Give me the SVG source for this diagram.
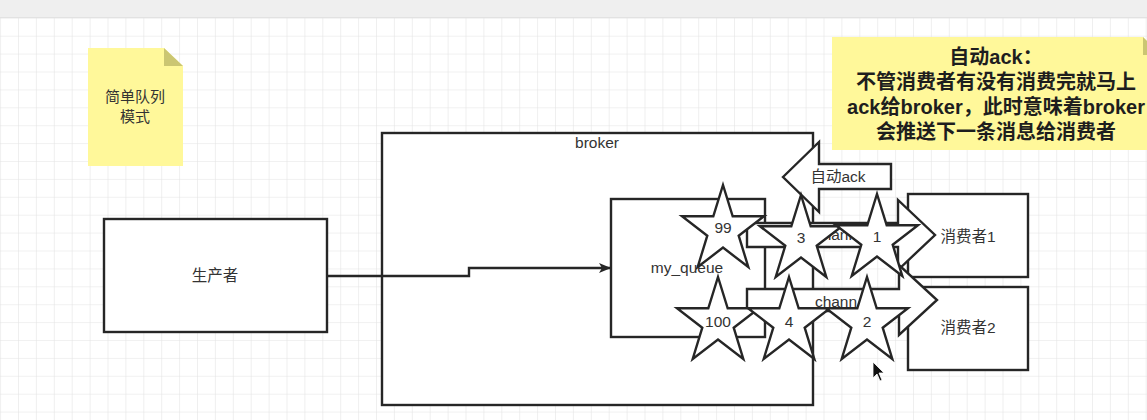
<svg xmlns="http://www.w3.org/2000/svg" xmlns:xlink="http://www.w3.org/1999/xlink" width="1147" height="420" viewBox="0 0 1147 420">
  <style>
    .box { fill: #ffffff; stroke: #262626; stroke-width: 2.4; }
    .shape { fill: #ffffff; stroke: #262626; stroke-width: 2.4; stroke-linejoin: miter; }
    .lbl { font-family: "Liberation Sans", "Noto Sans CJK SC", sans-serif; font-size: 15.5px; fill: #333333; text-anchor: middle; }
    .note { fill: #fff89a; }
    .fold { fill: #cbc672; }
    .notetxt { font-family: "Liberation Sans", "Noto Sans CJK SC", sans-serif; font-size: 15px; fill: #333333; text-anchor: middle; }
    .bignote { font-family: "Liberation Sans", "Noto Sans CJK SC", sans-serif; font-size: 20px; font-weight: bold; fill: #1e1e1e; text-anchor: middle; }
    .conn { fill: none; stroke: #262626; stroke-width: 2.4; }
  </style>
  <defs>
    <pattern id="grid" patternUnits="userSpaceOnUse" x="0.1" y="-0.1" width="17.9" height="17.9">
      <path d="M0,0 V17.9 M0,0 H17.9" fill="none" stroke="#e4e4e4" stroke-width="1.2"/>
    </pattern>
    <marker id="arrow" markerWidth="12" markerHeight="10" refX="11" refY="5" orient="auto" markerUnits="userSpaceOnUse">
      <path d="M0,0 L12,5 L0,10 L3,5 Z" fill="#262626"/>
    </marker>
    <polygon id="star" points="41,0 50.7,31.3 82,31.3 56.7,50.7 66.3,82 41,62.6 15.7,82 25.3,50.7 0,31.3 31.3,31.3"/>
  </defs>

  <!-- background -->
  <rect x="0" y="0" width="1147" height="420" fill="#ffffff"/>
  <rect x="0" y="17" width="1147" height="403" fill="url(#grid)"/>
  <rect x="0" y="0" width="1147" height="17" fill="#efefef"/>
  <line x1="0" y1="17.5" x2="1147" y2="17.5" stroke="#e2e2e2" stroke-width="1"/>

  <!-- notes -->
  <g id="note-mode">
    <path class="note" d="M88,48 H164 L183,66 V166 H88 Z"/>
    <path class="fold" d="M164,48 L183,66 H164 Z"/>
    <text class="notetxt" x="135" y="102">简单队列</text>
    <text class="notetxt" x="135" y="122">模式</text>
  </g>
  <g id="note-autoack">
    <path class="note" d="M832,37 H1143 L1161,55 V150 H832 Z"/>
    <path class="fold" d="M1143,37 L1161,55 H1143 Z"/>
    <text class="bignote" x="996" y="64">自动ack：</text>
    <text class="bignote" x="996" y="89">不管消费者有没有消费完就马上</text>
    <text class="bignote" x="996" y="114">ack给broker，此时意味着broker</text>
    <text class="bignote" x="996" y="139">会推送下一条消息给消费者</text>
  </g>

  <!-- nodes -->
  <g id="producer">
    <rect class="box" x="104" y="219" width="223" height="113"/>
    <text class="lbl" x="215" y="281">生产者</text>
  </g>
  <g id="broker">
    <rect class="box" x="382" y="133" width="431" height="272"/>
    <text class="lbl" x="597" y="148">broker</text>
  </g>
  <g id="my_queue">
    <rect class="box" x="611" y="199" width="154" height="138"/>
    <text class="lbl" x="687" y="273">my_queue</text>
  </g>
  <g id="consumer1">
    <rect class="box" x="908" y="194" width="120" height="83"/>
    <text class="lbl" x="968" y="242">消费者1</text>
  </g>
  <g id="consumer2">
    <rect class="box" x="908" y="287" width="120" height="83"/>
    <text class="lbl" x="968" y="333">消费者2</text>
  </g>

  <!-- connectors -->
  <g id="connectors">
    <path class="conn" d="M327,276 H469 V268 H610" marker-end="url(#arrow)"/>
  </g>

  <!-- block arrows -->
  <g id="auto-ack-arrow">
    <polygon class="shape" points="783,177 819,142 819,164 891,164 891,189 819,189 819,212"/>
    <text class="lbl" x="838" y="182">自动ack</text>
  </g>
  <g id="channel1">
    <polygon class="shape" points="747,223 898,223 898,200 935,235 898,270 898,247 747,247"/>
    <text class="lbl" x="836" y="240">chann</text>
  </g>
  <g id="channel2">
    <polygon class="shape" points="747,289 899,289 899,265 937,300 899,335 899,311 747,311"/>
    <text class="lbl" x="836" y="307">chann</text>
  </g>

  <!-- messages (stars) -->
  <g id="msg-99">
    <use xlink:href="#star" class="shape" x="682" y="185"/>
    <text class="lbl" x="723" y="233">99</text>
  </g>
  <g id="msg-3">
    <use xlink:href="#star" class="shape" x="760" y="195"/>
    <text class="lbl" x="801" y="243">3</text>
  </g>
  <g id="msg-1">
    <use xlink:href="#star" class="shape" x="836" y="194"/>
    <text class="lbl" x="877" y="242">1</text>
  </g>
  <g id="msg-100">
    <use xlink:href="#star" class="shape" x="677" y="277"/>
    <text class="lbl" x="718" y="327">100</text>
  </g>
  <g id="msg-4">
    <use xlink:href="#star" class="shape" x="748" y="277"/>
    <text class="lbl" x="789" y="327">4</text>
  </g>
  <g id="msg-2">
    <use xlink:href="#star" class="shape" x="826" y="277"/>
    <text class="lbl" x="867" y="327">2</text>
  </g>

  <!-- mouse pointer -->
  <path d="M873,362 L873,378 L877,374 L880,381 L882,380 L879,373 L884,373 Z" fill="#111111" stroke="#ffffff" stroke-width="0.8"/>
</svg>
